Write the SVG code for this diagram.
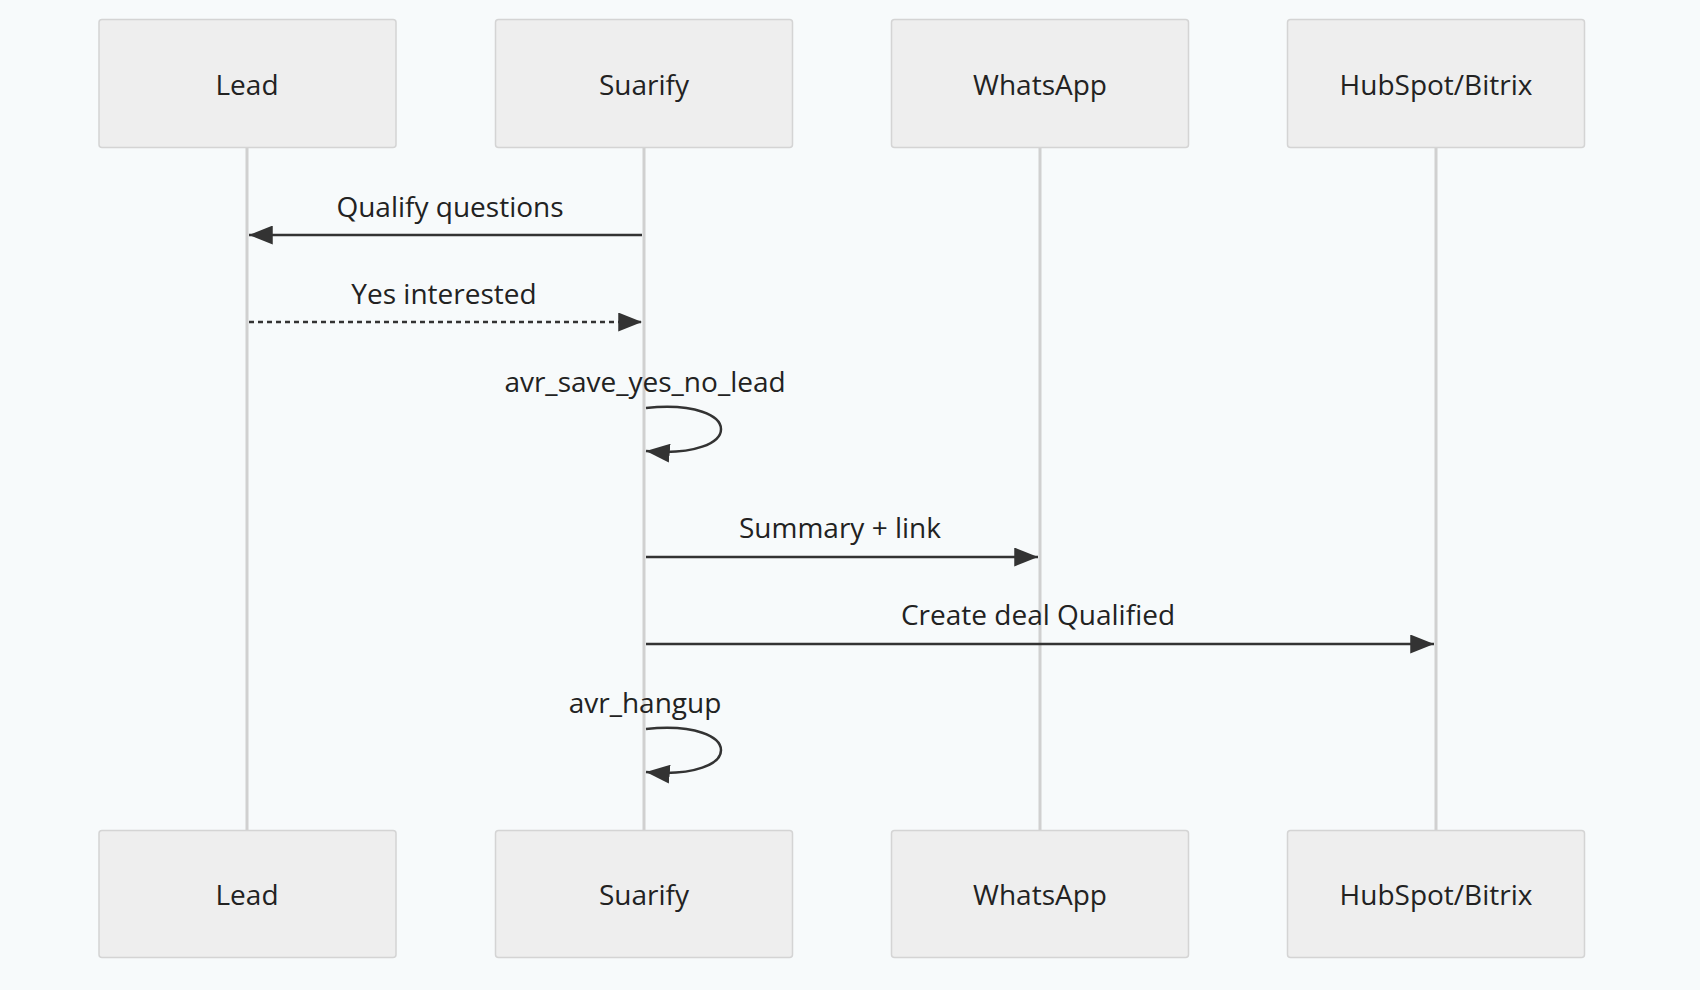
<svg xmlns="http://www.w3.org/2000/svg" width="1700" height="990" viewBox="0 0 1700 990">
<defs>
<style>
.box{fill:#eeeeee;stroke:#d4d4d4;stroke-width:1.5}
.t{font-family:"Open Sans","DejaVu Sans",sans-serif;font-size:28px;fill:#222;text-anchor:middle;dominant-baseline:central}
.life{stroke:#d0d0d0;stroke-width:3}
.m{stroke:#333;stroke-width:2.5;fill:none}
</style>
<marker id="a" viewBox="0 0 12 12" refX="11" refY="6" markerWidth="12" markerHeight="12" markerUnits="userSpaceOnUse" orient="auto"><path d="M0,0 L12,6 L0,12 z" fill="#333"/></marker>
<marker id="b" viewBox="0 0 20 16" refX="20" refY="8" markerWidth="24" markerHeight="19" markerUnits="userSpaceOnUse" orient="auto"><path d="M0,0 L20,8 L0,16 z" fill="#333"/></marker>
</defs>
<rect width="1700" height="990" fill="#f7fafb"/>
<g id="lifelines">
<line class="life" x1="247" y1="147" x2="247" y2="830"/>
<line class="life" x1="644" y1="147" x2="644" y2="830"/>
<line class="life" x1="1040" y1="147" x2="1040" y2="830"/>
<line class="life" x1="1436" y1="147" x2="1436" y2="830"/>
</g>
<g id="lead-top"><rect class="box" x="99" y="19.5" width="297" height="128" rx="3"/><text class="t" x="247" y="84">Lead</text></g>
<g id="suarify-top"><rect class="box" x="495.5" y="19.5" width="297" height="128" rx="3"/><text class="t" x="644" y="84">Suarify</text></g>
<g id="whatsapp-top"><rect class="box" x="891.5" y="19.5" width="297" height="128" rx="3"/><text class="t" x="1040" y="84">WhatsApp</text></g>
<g id="hubspot-top"><rect class="box" x="1287.5" y="19.5" width="297" height="128" rx="3"/><text class="t" x="1436" y="84">HubSpot/Bitrix</text></g>
<g id="lead-bottom"><rect class="box" x="99" y="830.5" width="297" height="127" rx="3"/><text class="t" x="247" y="894">Lead</text></g>
<g id="suarify-bottom"><rect class="box" x="495.5" y="830.5" width="297" height="127" rx="3"/><text class="t" x="644" y="894">Suarify</text></g>
<g id="whatsapp-bottom"><rect class="box" x="891.5" y="830.5" width="297" height="127" rx="3"/><text class="t" x="1040" y="894">WhatsApp</text></g>
<g id="hubspot-bottom"><rect class="box" x="1287.5" y="830.5" width="297" height="127" rx="3"/><text class="t" x="1436" y="894">HubSpot/Bitrix</text></g>
<g id="connectors">
<line class="m" x1="642" y1="235" x2="249" y2="235" marker-end="url(#b)"/>
<text class="t" x="450" y="206">Qualify questions</text>
<line class="m" x1="249" y1="322" x2="642" y2="322" stroke-dasharray="5,4" marker-end="url(#b)"/>
<text class="t" x="444" y="293">Yes interested</text>
<path class="m" d="M646,408 C746,398 746,460 646,451" marker-end="url(#b)"/>
<text class="t" x="645" y="381">avr_save_yes_no_lead</text>
<line class="m" x1="646" y1="557" x2="1038" y2="557" marker-end="url(#b)"/>
<text class="t" x="840" y="527">Summary + link</text>
<line class="m" x1="646" y1="644" x2="1434" y2="644" marker-end="url(#b)"/>
<text class="t" x="1038" y="614">Create deal Qualified</text>
<path class="m" d="M646,729 C746,719 746,781 646,772" marker-end="url(#b)"/>
<text class="t" x="645" y="702">avr_hangup</text>
</g>
</svg>
